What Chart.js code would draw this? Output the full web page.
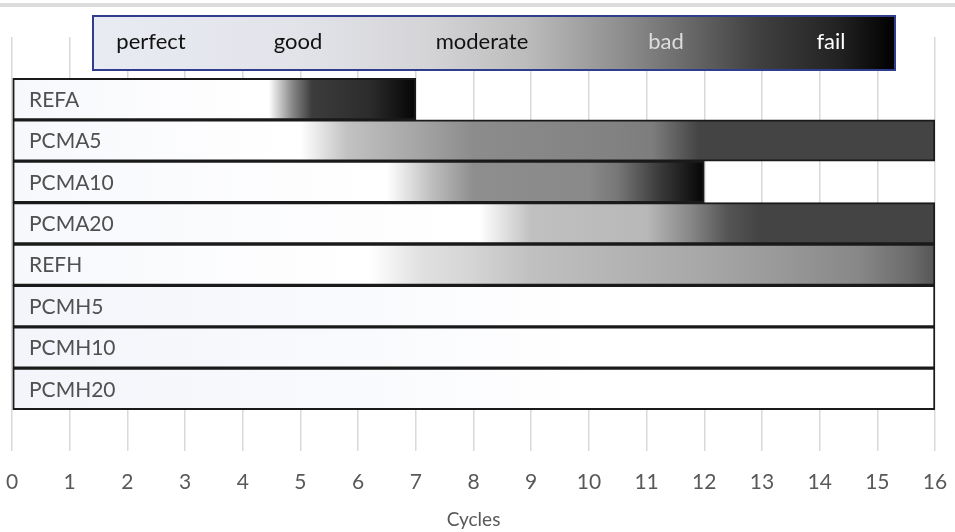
<!DOCTYPE html>
<html lang="en">
<head>
    <meta charset="UTF-8">
    <title>Cycles</title>
    <script src="https://cdn.jsdelivr.net/npm/chart.js@4.4.0/dist/chart.umd.min.js"></script>
    <style>
        body { margin: 0; background: #fff; }
    </style>
</head>
<body>
    <canvas id="cyclesChart" width="955" height="532"></canvas>

<script>
    // data
    const categories = ['', 'REFA', 'PCMA5', 'PCMA10', 'PCMA20', 'REFH', 'PCMH5', 'PCMH10', 'PCMH20', '']
    const cycles = [null, 7, 16, 12, 16, 16, 16, 16, 16, null]
    const xTicks = [0, 1, 2, 3, 4, 5, 6, 7, 8, 9, 10, 11, 12, 13, 14, 15, 16]
    const ratings = ['perfect', 'good', 'moderate', 'bad', 'fail']

    // gradient shading of each bar, stops given in cycles
    const lightBar = [[0, '#f3f5fa'], [6, '#f9fafd'], [10, '#ffffff'], [16, '#ffffff']]
    const barShades = [
        null,
        [[0, '#f7f8fc'], [4.45, '#ffffff'], [4.85, '#8a8a8a'], [5.2, '#3c3c3c'], [6.2, '#2c2c2c'], [7, '#050505'], [16, '#050505']],
        [[0, '#f7f8fc'], [5.0, '#ffffff'], [5.8, '#c2c2c2'], [7, '#a6a6a6'], [8, '#8c8c8c'], [10.4, '#828282'], [11.1, '#7d7d7d'], [11.9, '#444444'], [16, '#444444']],
        [[0, '#f7f8fc'], [6.5, '#ffffff'], [7.3, '#bcbcbc'], [8, '#8e8e8e'], [10, '#898989'], [10.5, '#777777'], [11.2, '#3c3c3c'], [12, '#050505'], [16, '#050505']],
        [[0, '#f7f8fc'], [8.1, '#ffffff'], [9.0, '#c0c0c0'], [11.0, '#b8b8b8'], [11.75, '#888888'], [12.4, '#555555'], [12.95, '#444444'], [16, '#444444']],
        [[0, '#f7f8fc'], [6.2, '#ffffff'], [7.1, '#e0e0e0'], [7.9, '#d6d6d6'], [9, '#c0c0c0'], [10.5, '#b4b4b4'], [11.9, '#a8a8a8'], [13.3, '#999999'], [14.7, '#878787'], [15.6, '#6a6a6a'], [16, '#555555']],
        lightBar,
        lightBar,
        lightBar,
        null
    ]
    const legendShade = [[0, '#e9ebf3'], [0.26, '#e2e3e9'], [0.42, '#d4d4d7'], [0.54, '#bcbcbc'], [0.66, '#8e8e8e'], [0.73, '#6e6e6e'], [0.83, '#404040'], [0.93, '#222222'], [1, '#000000']]
    const legendText = ['#111111', '#111111', '#111111', '#dddddd', '#ffffff']
    const legendX = [151, 298, 482, 666, 831]

    function barFill(context) {
        const chart = context.chart
        const stops = barShades[context.dataIndex]
        if (!chart.chartArea || !stops) return '#ffffff'
        const x = chart.scales.x
        const x0 = x.getPixelForValue(0)
        const x1 = x.getPixelForValue(16)
        const g = chart.ctx.createLinearGradient(x0, 0, x1, 0)
        for (const [v, c] of stops) g.addColorStop(v / 16, c)
        return g
    }

    // white page with the thin grey band on top
    const backdrop = {
        id: 'backdrop',
        beforeDraw(chart) {
            const c = chart.ctx
            c.save()
            c.fillStyle = '#ffffff'
            c.fillRect(0, 0, chart.width, chart.height)
            c.fillStyle = '#dcdcdc'
            c.fillRect(0, 3, chart.width, 4)
            c.restore()
        }
    }

    // category names written inside the bars
    const barNames = {
        id: 'barNames',
        afterDatasetsDraw(chart) {
            const c = chart.ctx
            const y = chart.scales.y
            const left = chart.chartArea.left + 17
            c.save()
            c.font = '21px Lato'
            c.fillStyle = '#505050'
            c.textAlign = 'left'
            c.textBaseline = 'middle'
            categories.forEach((name, i) => {
                if (name) c.fillText(name, left, y.getPixelForValue(i) + 1)
            })
            c.restore()
        }
    }

    // rating scale box on top
    const ratingBox = {
        id: 'ratingBox',
        afterDraw(chart) {
            const c = chart.ctx
            const left = 93, top = 16, w = 802, h = 54
            c.save()
            const g = c.createLinearGradient(left, 0, left + w, 0)
            for (const [p, col] of legendShade) g.addColorStop(p, col)
            c.fillStyle = g
            c.fillRect(left, top, w, h)
            c.strokeStyle = '#2f3d8c'
            c.lineWidth = 2
            c.strokeRect(left, top, w, h)
            c.font = '22px Lato'
            c.textAlign = 'center'
            c.textBaseline = 'middle'
            ratings.forEach((r, i) => {
                c.fillStyle = legendText[i]
                c.fillText(r, legendX[i], top + h / 2 - 1)
            })
            c.restore()
        }
    }

    const ctx = document.getElementById('cyclesChart')

    const chart = new Chart(ctx, {
        type: 'bar',
        data: {
            labels: categories,
            datasets: [{
                data: cycles,
                backgroundColor: barFill,
                borderColor: '#1a1a1a',
                borderWidth: 2,
                borderSkipped: false,
                barPercentage: 1,
                categoryPercentage: 1
            }]
        },
        options: {
            indexAxis: 'y',
            responsive: false,
            animation: false,
            layout: { padding: { top: 37, left: 12, right: 20, bottom: 1 } },
            plugins: {
                legend: { display: false },
                tooltip: { enabled: false }
            },
            scales: {
                x: {
                    min: 0,
                    max: 16,
                    afterBuildTicks: (s) => { s.ticks = xTicks.map(v => ({ value: v })) },
                    grid: { color: '#d9d9d9', lineWidth: 1.5, drawTicks: true, tickLength: 16, tickColor: 'rgba(0,0,0,0)' },
                    border: { display: false },
                    ticks: { color: '#595959', font: { family: 'Lato', size: 21 }, padding: 3, maxRotation: 0 },
                    title: {
                        display: true,
                        text: 'Cycles',
                        color: '#595959',
                        font: { family: 'Lato', size: 19 },
                        padding: { top: 10, bottom: 0 }
                    }
                },
                y: {
                    display: false
                }
            }
        },
        plugins: [backdrop, barNames, ratingBox]
    })
</script>
</body>
</html>
